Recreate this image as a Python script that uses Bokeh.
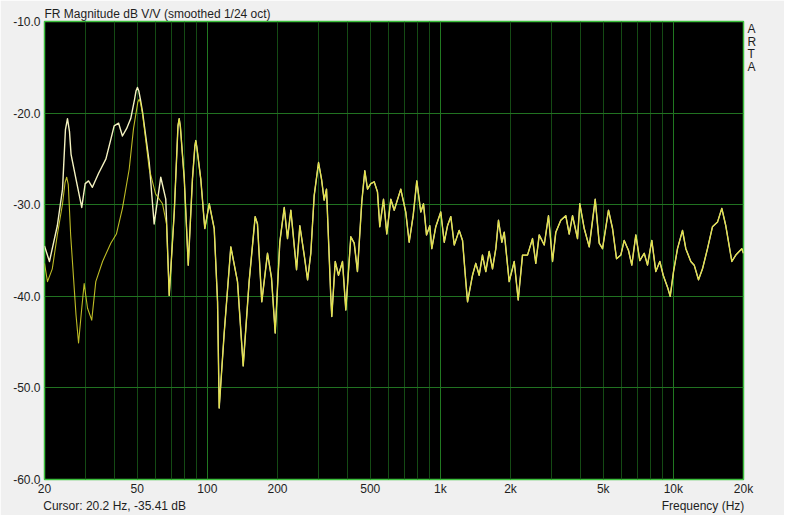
#ARTA style frequency response plot

#Import the required packages

from bokeh.plotting import figure
from bokeh.models import (FixedTicker, CustomJSTickFormatter, PrintfTickFormatter,
                          Range1d, LogAxis, LinearAxis)
from bokeh.embed import file_html
from bokeh.resources import INLINE

#Low end of the two traces (Hz, dB) - they split below ~70 Hz

freq_a_low = [20.0, 21.0, 22.7, 23.9, 24.6, 25.1, 25.6, 26.0, 27.3, 28.9,
              29.9, 30.9, 32.1, 34.1, 36.7, 38.4, 39.8, 41.6, 43.2, 45.0,
              46.9, 48.7, 49.4, 50.1, 50.8, 51.6, 52.7, 56.3, 59.1, 63.1,
              66.3]
db_a_low = [-34.5, -36.2, -32.3, -28.3, -21.8, -20.6, -22.0, -24.5, -27.2, -30.3,
            -27.7, -27.4, -28.1, -26.6, -25.0, -23.0, -21.4, -21.1, -22.5, -21.7,
            -20.6, -18.5, -17.6, -17.2, -17.6, -18.5, -19.9, -25.4, -32.1, -27.0,
            -29.4]

freq_b_low = [20.0, 20.6, 21.6, 22.7, 23.9, 24.5, 24.9, 25.3, 25.9, 27.3,
              28.0, 28.9, 29.6, 30.6, 31.9, 33.2, 35.5, 38.5, 40.7, 43.2,
              46.2, 48.2, 50.3, 51.0, 51.7, 52.7, 56.3, 59.9, 64.2, 66.8]
db_b_low = [-36.4, -38.4, -37.0, -33.3, -29.9, -27.6, -27.0, -27.8, -33.3, -42.0,
            -45.1, -41.3, -38.6, -41.3, -42.6, -38.4, -36.2, -34.2, -33.2, -30.4,
            -26.1, -21.7, -18.8, -18.5, -18.9, -20.1, -26.1, -28.8, -29.9, -32.1]

#Upper part, where both traces lie on top of each other

freq_shared = [68.6, 72.1, 74.8, 75.7, 76.6, 79.6, 82.8, 86.3, 88.4, 89.2,
               90.1, 93.7, 97.5, 101.9, 107.0, 110.6, 112.4, 118.1, 126.1, 134.7,
               142.5, 151.1, 160.4, 164.1, 171.2, 181.2, 188.5, 195.5, 204.6, 213.8,
               220.8, 228.2, 241.4, 249.4, 260.4, 269.2, 278.0, 287.4, 300, 309,
               317.2, 324.6, 338.6, 342, 353.8, 365.4, 380.2, 392.8, 412.8, 426.8,
               440.8, 460, 474, 486.8, 502.8, 520, 537.2, 549.6, 570.2, 589,
               612.8, 633.8, 676.2, 710.4, 734.8, 764.4, 792.2, 824.2, 846.6, 872,
               901, 918.8, 955.8, 1004, 1039, 1073, 1109, 1147, 1204, 1245,
               1286, 1308, 1374, 1419, 1468, 1516, 1567, 1620, 1674, 1730,
               1776, 1836, 1880, 1974, 2075, 2158, 2252, 2366, 2486, 2568,
               2656, 2791, 2912, 3030, 3130, 3288, 3454, 3572, 3692, 3878,
               3968, 4144, 4354, 4620, 4806, 4966, 5268, 5482, 5702, 5950,
               6152, 6420, 6632, 6902, 7178, 7498, 7746, 8082, 8408, 8748,
               9046, 9438, 9694, 10016, 10418, 10946, 11310, 11882, 12288, 12822,
               13336, 14014, 14724, 15468, 16142, 16790, 17824, 18536, 19666, 20000]
db_shared = [-39.9, -30.8, -21.4, -20.6, -21.5, -27.2, -36.6, -27.2, -23.6, -23.0,
             -23.7, -27.2, -32.6, -29.9, -32.6, -40.6, -52.2, -44.0, -34.6, -38.4,
             -47.6, -38.4, -31.3, -32.1, -40.6, -35.3, -38.0, -44.0, -34.1, -30.3,
             -33.7, -30.6, -37.1, -32.3, -35.5, -38.2, -35.3, -29.0, -25.4, -27.2,
             -29.5, -28.3, -40.0, -42.2, -36.2, -37.7, -36.2, -41.5, -33.5, -34.2,
             -37.3, -29.7, -26.3, -28.3, -27.7, -27.5, -28.6, -32.4, -29.4, -33.2,
             -29.4, -30.6, -28.3, -30.8, -34.1, -31.2, -27.4, -30.8, -29.9, -33.3,
             -32.3, -34.8, -32.4, -30.8, -34.1, -32.3, -31.3, -34.4, -32.8, -33.9,
             -38.4, -40.6, -37.7, -36.4, -37.7, -35.5, -37.3, -35.1, -37.0, -34.8,
             -31.7, -34.1, -33.0, -38.4, -36.2, -40.4, -35.5, -35.5, -33.7, -36.4,
             -33.3, -34.4, -31.2, -36.2, -33.0, -31.7, -31.2, -33.2, -31.2, -33.7,
             -29.9, -32.6, -34.6, -29.4, -34.2, -34.8, -30.6, -32.6, -35.9, -35.5,
             -33.9, -35.0, -36.6, -33.3, -36.1, -35.3, -36.6, -33.9, -37.3, -36.2,
             -37.7, -39.0, -40.0, -37.3, -34.8, -32.8, -34.8, -36.2, -36.6, -38.2,
             -37.0, -34.8, -32.4, -31.9, -30.4, -32.3, -36.2, -35.5, -34.8, -35.3]

#Axis ticks

x_ticks = [20, 50, 100, 200, 500, 1000, 2000, 5000, 10000, 20000]
x_grid_major = [100, 1000, 10000]
x_grid_minor = [30, 40, 50, 60, 70, 80, 90,
                200, 300, 400, 500, 600, 700, 800, 900,
                2000, 3000, 4000, 5000, 6000, 7000, 8000, 9000]
y_ticks = [-60, -50, -40, -30, -20, -10]
y_grid = [-50, -40, -30, -20]

#Texts around the frame

title_text = "FR Magnitude dB V/V (smoothed 1/24 oct)"
cursor_text = "Cursor: 20.2 Hz, -35.41 dB"
xlabel_text = "Frequency (Hz)"
side_letters = ["A", "R", "T", "A"]
side_pos = [-10.87, -12.23, -13.59, -14.95]
bottom_pos = [40.0, 13400]

font = "Liberation Sans"
text_col = "#1e1e1e"

#Create the figure

p = figure(width=784, height=515, title=title_text, x_axis_type="log",
           x_range=Range1d(20, 20000), y_range=Range1d(-60, -10),
           toolbar_location=None, output_backend="svg",
           min_border_left=44, min_border_right=41, min_border_top=21, min_border_bottom=34)

p.background_fill_color = "black"
p.border_fill_color = "#f0f0f0"
p.outline_line_color = "#3cc03c"
p.outline_line_width = 1.5

p.title.align = "left"
p.title.text_font = font
p.title.text_font_size = "12px"
p.title.text_font_style = "normal"
p.title.text_color = text_col
p.title.standoff = 1

#Grid lines

p.xgrid.ticker = FixedTicker(ticks=x_grid_major, minor_ticks=x_grid_minor)
p.xgrid.grid_line_color = "#217821"
p.xgrid.minor_grid_line_color = "#144a14"
p.ygrid.ticker = FixedTicker(ticks=y_grid)
p.ygrid.grid_line_color = "#217221"

#Axes

p.xaxis.ticker = FixedTicker(ticks=x_ticks)
p.xaxis.formatter = CustomJSTickFormatter(code="return tick >= 1000 ? (tick / 1000) + 'k' : tick.toString();")
p.yaxis.ticker = FixedTicker(ticks=y_ticks)
p.yaxis.formatter = PrintfTickFormatter(format="%.1f")

#Second axis below carries the cursor readout and the axis name on one row

bottom_axis = LogAxis(ticker=FixedTicker(ticks=bottom_pos),
                      formatter=CustomJSTickFormatter(
                          args=dict(left_txt=cursor_text, right_txt=xlabel_text),
                          code="return tick < 1000 ? left_txt : right_txt;"))
p.add_layout(bottom_axis, "below")

#Axis on the right carries the vertical ARTA mark

side_axis = LinearAxis(ticker=FixedTicker(ticks=side_pos),
                       formatter=CustomJSTickFormatter(
                           args=dict(pos=side_pos, letters=side_letters),
                           code="let best = 0; for (let k = 1; k < pos.length; k++) { if (Math.abs(pos[k] - tick) < Math.abs(pos[best] - tick)) { best = k; } } return letters[best];"))
p.add_layout(side_axis, "right")

for ax in p.xaxis + p.yaxis:
    ax.axis_line_color = None
    ax.major_tick_line_color = None
    ax.minor_tick_line_color = None
    ax.major_tick_out = 0
    ax.major_tick_in = 0
    ax.minor_tick_out = 0
    ax.minor_tick_in = 0
    ax.major_label_text_font = font
    ax.major_label_text_font_size = "12px"
    ax.major_label_text_color = text_col
    ax.major_label_standoff = 4

p.xaxis[0].major_label_standoff = 2
bottom_axis.major_label_standoff = 0

#The two traces

p.line(freq_a_low + freq_shared, db_a_low + db_shared, line_color="#f4f2c0", line_width=1.4, line_join="round")
p.line(freq_b_low + freq_shared, db_b_low + db_shared, line_color="#dedc2c", line_width=1.1, line_join="round", line_alpha=0.85)

#Output the plot

open("out.html", "w").write(file_html(p, INLINE))
